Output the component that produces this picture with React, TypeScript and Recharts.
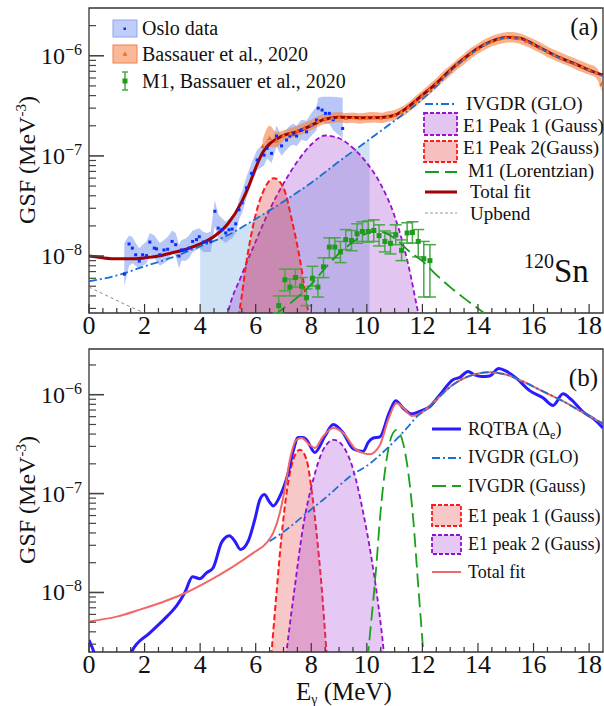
import React from "react";
import { ComposedChart, Line, Area, Scatter, XAxis, YAxis, ErrorBar, ReferenceArea } from "recharts";

const FONT = '"Liberation Serif", "DejaVu Serif", serif';

const xTicks = [0, 0.5, 1, 1.5, 2, 2.5, 3, 3.5, 4, 4.5, 5, 5.5, 6, 6.5, 7, 7.5, 8, 8.5, 9, 9.5, 10, 10.5, 11, 11.5, 12, 12.5, 13, 13.5, 14, 14.5, 15, 15.5, 16, 16.5, 17, 17.5, 18];
const yTicks = [3e-9, 4e-9, 5e-9, 6e-9, 7e-9, 8e-9, 9e-9, 1e-8, 2e-8, 3e-8, 4e-8, 5e-8, 6e-8, 7e-8, 8e-8, 9e-8, 1e-7, 2e-7, 3e-7, 4e-7, 5e-7, 6e-7, 7e-7, 8e-7, 9e-7, 1e-6, 2e-6];

const A_MIN = 2.7e-9;
const A_MAX = 3e-6;
const B_MIN = 2.5e-9;
const B_MAX = 2.9e-6;

// ---------- panel (a) ----------
const osloE = [1.27, 1.44, 1.56, 1.68, 1.81, 1.93, 2.07, 2.19, 2.35, 2.43, 2.55, 2.7, 2.83, 2.99, 3.12, 3.24, 3.33, 3.48, 3.6, 3.73, 3.87, 3.97, 4.11, 4.23, 4.38, 4.53, 4.65, 4.78, 4.92, 5.04, 5.15, 5.28, 5.4, 5.51, 5.67, 5.85, 6.05, 6.3, 6.41, 6.57, 6.75, 6.93, 7.11, 7.23, 7.35, 7.47, 7.65, 7.83, 8.01, 8.19, 8.25, 8.39, 8.51, 8.65, 8.79, 9.13];
const osloV = [6.6e-9, 1.32e-8, 1.2e-8, 1.03e-8, 8.9e-9, 1.03e-8, 1.01e-8, 1.38e-8, 1.2e-8, 1.18e-8, 1.03e-8, 1.15e-8, 1.17e-8, 1.4e-8, 1.3e-8, 1e-8, 1.15e-8, 1.15e-8, 1.2e-8, 1.4e-8, 1.46e-8, 1.56e-8, 1.38e-8, 1.38e-8, 1.39e-8, 2.8e-8, 1.9e-8, 1.83e-8, 1.7e-8, 1.83e-8, 1.86e-8, 2.1e-8, 2.9e-8, 3.4e-8, 4.8e-8, 6.7e-8, 9.1e-8, 1.02e-7, 1.19e-7, 1.06e-7, 1.58e-7, 1.26e-7, 1.44e-7, 1.58e-7, 1.65e-7, 1.58e-7, 1.82e-7, 1.74e-7, 2.03e-7, 2.28e-7, 3e-7, 2.87e-7, 2.66e-7, 2.66e-7, 2.3e-7, 1.88e-7];
const osloLo = [5e-9, 8e-9, 8.5e-9, 8e-9, 7.5e-9, 8e-9, 8.5e-9, 1.05e-8, 9.5e-9, 9e-9, 8e-9, 8.5e-9, 9e-9, 1.1e-8, 1e-8, 7.5e-9, 9e-9, 9e-9, 9.5e-9, 1.1e-8, 1.15e-8, 1.2e-8, 1.1e-8, 1.1e-8, 1.1e-8, 2e-8, 1.5e-8, 1.45e-8, 1.35e-8, 1.45e-8, 1.5e-8, 1.7e-8, 2.3e-8, 2.7e-8, 3.8e-8, 5.3e-8, 7.2e-8, 8e-8, 9.4e-8, 8.5e-8, 1.25e-7, 1e-7, 1.15e-7, 1.25e-7, 1.3e-7, 1.25e-7, 1.45e-7, 1.4e-7, 1.6e-7, 1.8e-7, 2.3e-7, 2.2e-7, 2.1e-7, 2.1e-7, 1.8e-7, 1.5e-7];
const osloHi = [1.35e-8, 1.6e-8, 1.55e-8, 1.35e-8, 1.2e-8, 1.3e-8, 1.4e-8, 1.7e-8, 1.6e-8, 1.5e-8, 1.35e-8, 1.45e-8, 1.55e-8, 1.8e-8, 1.7e-8, 1.3e-8, 1.45e-8, 1.5e-8, 1.6e-8, 1.8e-8, 1.85e-8, 1.9e-8, 1.75e-8, 1.7e-8, 1.75e-8, 3.6e-8, 2.6e-8, 2.4e-8, 2.2e-8, 2.35e-8, 2.4e-8, 2.7e-8, 3.7e-8, 4.4e-8, 6.2e-8, 8.5e-8, 1.15e-7, 1.3e-7, 1.5e-7, 1.35e-7, 2e-7, 1.6e-7, 1.85e-7, 2e-7, 2.1e-7, 2e-7, 2.3e-7, 2.25e-7, 2.7e-7, 3.1e-7, 3.8e-7, 3.9e-7, 3.9e-7, 3.9e-7, 3.9e-7, 3.8e-7];

const bassE = [6.25, 6.5, 6.75, 7, 7.25, 7.5, 7.75, 8, 8.25, 8.5, 8.75, 9, 9.25, 9.5, 9.75, 10, 10.25, 10.5, 10.75, 11, 11.25, 11.5, 11.75, 12, 12.25, 12.5, 12.75, 13, 13.25, 13.5, 13.75, 14, 14.25, 14.5, 14.75, 15, 15.25, 15.5, 15.75, 16, 16.25, 16.5, 16.75, 17, 17.25, 17.5, 17.75, 18, 18.25, 18.45];
const bassV = [1.25e-7, 1.5e-7, 1.42e-7, 1.6e-7, 1.68e-7, 1.78e-7, 1.9e-7, 2.05e-7, 2.22e-7, 2.35e-7, 2.4e-7, 2.44e-7, 2.38e-7, 2.42e-7, 2.37e-7, 2.41e-7, 2.43e-7, 2.4e-7, 2.48e-7, 2.56e-7, 2.75e-7, 3.05e-7, 3.5e-7, 4e-7, 4.6e-7, 5.3e-7, 6.2e-7, 7.1e-7, 8.2e-7, 9.3e-7, 1.06e-6, 1.18e-6, 1.3e-6, 1.4e-6, 1.47e-6, 1.52e-6, 1.53e-6, 1.49e-6, 1.4e-6, 1.3e-6, 1.2e-6, 1.1e-6, 1.02e-6, 9.5e-7, 8.9e-7, 8.3e-7, 7.8e-7, 7.3e-7, 6.8e-7, 5.2e-7];
const bassLo = [1.02e-7, 1.22e-7, 1.22e-7, 1.42e-7, 1.5e-7, 1.58e-7, 1.68e-7, 1.82e-7, 1.97e-7, 2.08e-7, 2.13e-7, 2.17e-7, 2.12e-7, 2.15e-7, 2.1e-7, 2.14e-7, 2.16e-7, 2.13e-7, 2.2e-7, 2.27e-7, 2.44e-7, 2.71e-7, 3.1e-7, 3.55e-7, 4.08e-7, 4.7e-7, 5.5e-7, 6.3e-7, 7.28e-7, 8.25e-7, 9.4e-7, 1.05e-6, 1.15e-6, 1.24e-6, 1.3e-6, 1.35e-6, 1.36e-6, 1.32e-6, 1.24e-6, 1.15e-6, 1.06e-6, 9.75e-7, 9.05e-7, 8.4e-7, 7.9e-7, 7.35e-7, 6.9e-7, 6.45e-7, 6e-7, 4.4e-7];
const bassHi = [1.45e-7, 2e-7, 1.72e-7, 1.8e-7, 1.9e-7, 2e-7, 2.14e-7, 2.3e-7, 2.5e-7, 2.65e-7, 2.7e-7, 2.75e-7, 2.68e-7, 2.72e-7, 2.67e-7, 2.72e-7, 2.74e-7, 2.7e-7, 2.8e-7, 2.88e-7, 3.1e-7, 3.44e-7, 3.95e-7, 4.5e-7, 5.2e-7, 5.98e-7, 7e-7, 8e-7, 9.25e-7, 1.05e-6, 1.2e-6, 1.33e-6, 1.47e-6, 1.58e-6, 1.66e-6, 1.72e-6, 1.73e-6, 1.68e-6, 1.58e-6, 1.47e-6, 1.36e-6, 1.24e-6, 1.15e-6, 1.07e-6, 1e-6, 9.4e-7, 8.8e-7, 8.25e-7, 7.7e-7, 6.2e-7];

const m1E = [6.83, 7.05, 7.23, 7.43, 7.65, 7.83, 8.04, 8.24, 8.44, 8.65, 8.85, 9.05, 9.24, 9.45, 9.65, 9.84, 10.05, 10.25, 10.44, 10.65, 10.85, 11.04, 11.25, 11.45, 11.64, 11.85, 12.05, 12.27];
const m1V = [3.2e-9, 5.8e-9, 4.9e-9, 6.1e-9, 5e-9, 3.85e-9, 6e-9, 4.9e-9, 7.8e-9, 1.23e-8, 1.23e-8, 1.1e-8, 1.46e-8, 1.43e-8, 1.67e-8, 1.76e-8, 1.76e-8, 1.8e-8, 1.6e-8, 1.4e-8, 1.34e-8, 1.63e-8, 1.14e-8, 1.7e-8, 1.72e-8, 1.4e-8, 9.4e-9, 9e-9];
const m1Lo = [2.7e-9, 4.5e-9, 4e-9, 4.9e-9, 4e-9, 3.2e-9, 5e-9, 3.9e-9, 6.1e-9, 9.6e-9, 9.6e-9, 8.6e-9, 1.16e-8, 1.13e-8, 1.34e-8, 1.4e-8, 1.38e-8, 1.4e-8, 1.26e-8, 1.1e-8, 1.05e-8, 1.3e-8, 9e-9, 1.35e-8, 1.35e-8, 9.8e-9, 3.9e-9, 3.9e-9];
const m1Hi = [4e-9, 7.4e-9, 5.9e-9, 7.4e-9, 6.1e-9, 4.7e-9, 7.9e-9, 6.1e-9, 9.6e-9, 1.52e-8, 1.52e-8, 1.4e-8, 1.84e-8, 1.8e-8, 2.1e-8, 2.2e-8, 2.25e-8, 2.3e-8, 2.05e-8, 1.78e-8, 1.7e-8, 2.05e-8, 1.45e-8, 2.15e-8, 2.2e-8, 1.84e-8, 1.4e-8, 1.3e-8];

const totalAE = [0, 0.5, 1, 1.5, 2, 2.5, 3, 3.5, 4, 4.5, 5, 5.5, 5.75, 6, 6.25, 6.5, 6.75, 7, 7.5, 8, 8.5, 9, 9.5, 10, 10.5, 11, 11.5, 12, 12.5, 13, 13.5, 14, 14.5, 15, 15.5, 16, 16.5, 17, 17.5, 18, 18.5];
const totalAV = [1e-8, 9.6e-9, 9.4e-9, 9.4e-9, 9.6e-9, 1e-8, 1.08e-8, 1.17e-8, 1.32e-8, 1.57e-8, 2.1e-8, 3.5e-8, 5e-8, 7.6e-8, 1.08e-7, 1.32e-7, 1.47e-7, 1.6e-7, 1.75e-7, 2.02e-7, 2.33e-7, 2.43e-7, 2.42e-7, 2.4e-7, 2.42e-7, 2.55e-7, 3.1e-7, 4.05e-7, 5.3e-7, 7.2e-7, 9.4e-7, 1.19e-6, 1.4e-6, 1.52e-6, 1.5e-6, 1.3e-6, 1.1e-6, 9.4e-7, 8.3e-7, 7.2e-7, 6.4e-7];

const gloAE = [0, 1, 2, 3, 4, 5, 6, 7, 8, 9, 10, 11, 12, 12.5, 13, 13.5, 14, 14.5, 15, 15.5, 16, 16.5, 17, 17.5, 18, 18.5];
const gloAV = [5.6e-9, 6.4e-9, 7.9e-9, 9.7e-9, 1.25e-8, 1.62e-8, 2.35e-8, 3.5e-8, 5.4e-8, 8.8e-8, 1.4e-7, 2.25e-7, 3.7e-7, 4.95e-7, 6.95e-7, 9.2e-7, 1.17e-6, 1.39e-6, 1.51e-6, 1.49e-6, 1.29e-6, 1.09e-6, 9.3e-7, 8.2e-7, 7.1e-7, 6.3e-7];

const fitRegionE = [4, 4.5, 5, 5.5, 6, 6.5, 7, 7.5, 8, 8.5, 9, 9.5, 10, 10.1];
const fitRegionV = [1.25e-8, 1.42e-8, 1.62e-8, 1.95e-8, 2.35e-8, 2.9e-8, 3.5e-8, 4.4e-8, 5.4e-8, 7e-8, 8.8e-8, 1.12e-7, 1.4e-7, 1.45e-7];

const peak1AE = [4.9, 5.0, 5.5, 6, 6.5, 7, 7.5, 8, 8.5, 9, 9.5, 10, 10.5, 11, 11.5, 11.85, 11.95];
const peak1AV = [2e-9, 2.7e-9, 6.5e-9, 1.4e-8, 2.9e-8, 5.3e-8, 8.8e-8, 1.3e-7, 1.6e-7, 1.5e-7, 1.2e-7, 8.5e-8, 5.2e-8, 2.5e-8, 8e-9, 2.7e-9, 2e-9];

const peak2AE = [5.3, 5.4, 5.7, 6.0, 6.3, 6.65, 7.0, 7.3, 7.6, 7.9, 8.0];
const peak2AV = [2e-9, 2.7e-9, 1e-8, 2.6e-8, 4.6e-8, 6e-8, 4.8e-8, 2.3e-8, 9e-9, 2.7e-9, 2e-9];

const m1FitE = [6.7, 6.8, 7.2, 7.6, 8, 8.5, 9, 9.5, 10, 10.3, 10.6, 11, 11.5, 12, 12.5, 13, 13.5, 14, 14.3];
const m1FitV = [2.5e-9, 2.7e-9, 3.3e-9, 4.1e-9, 5.2e-9, 7.6e-9, 1.06e-8, 1.38e-8, 1.68e-8, 1.76e-8, 1.72e-8, 1.5e-8, 1.13e-8, 8.9e-9, 6.5e-9, 4.9e-9, 3.8e-9, 3e-9, 2.6e-9];

const upbendE = [0, 0.5, 1, 1.5, 2, 2.3];
const upbendV = [4.9e-9, 4.2e-9, 3.6e-9, 3.1e-9, 2.7e-9, 2.4e-9];

// ---------- panel (b) ----------
const rqtbaE = [0, 0.2, 0.4, 1.0, 1.3, 1.53, 2.19, 2.8, 3.15, 3.45, 3.73, 3.99, 4.23, 4.47, 4.77, 5.05, 5.25, 5.45, 5.73, 5.97, 6.15, 6.31, 6.5, 6.63, 6.87, 7.17, 7.35, 7.53, 7.7, 7.83, 8.13, 8.49, 8.79, 9.15, 9.5, 9.87, 10.05, 10.23, 10.47, 10.8, 11.04, 11.31, 11.61, 11.91, 12.27, 12.63, 13.1, 13.35, 13.64, 13.88, 14.13, 14.42, 14.75, 15.03, 15.38, 15.86, 16.34, 16.7, 17.06, 17.36, 17.78, 18.2, 18.5];
const rqtbaV = [3.3e-9, 2.4e-9, 1.5e-9, 1e-9, 1.6e-9, 2.5e-9, 3.9e-9, 5.7e-9, 7.3e-9, 1e-8, 1.44e-8, 1.38e-8, 1.58e-8, 1.78e-8, 3.2e-8, 3.75e-8, 3.3e-8, 2.72e-8, 3.3e-8, 5.5e-8, 8.7e-8, 9.8e-8, 8.2e-8, 7.5e-8, 9.4e-8, 1.62e-7, 2.7e-7, 3.7e-7, 3.7e-7, 3.5e-7, 2.6e-7, 3.8e-7, 5e-7, 4.1e-7, 2.85e-7, 2.67e-7, 3.3e-7, 3.65e-7, 3.75e-7, 6.5e-7, 8.7e-7, 7.3e-7, 6.4e-7, 6.8e-7, 7.6e-7, 1e-6, 1.42e-6, 1.5e-6, 1.72e-6, 1.59e-6, 1.53e-6, 1.55e-6, 1.84e-6, 1.72e-6, 1.47e-6, 1.1e-6, 9.3e-7, 7.8e-7, 1.02e-6, 8.9e-7, 6.7e-7, 5.6e-7, 4.6e-7];

const totalBE = [0, 1, 1.83, 2.8, 3.5, 4.2, 5.2, 5.9, 6.4, 6.63, 6.87, 7.05, 7.23, 7.47, 7.65, 7.95, 8.13, 8.43, 8.79, 9.15, 9.6, 9.9, 10.1, 10.47, 10.77, 11.07, 11.37, 11.61, 11.97, 12.5, 13.1, 13.82, 14.42, 15.03, 15.62, 16.34, 17.06, 17.78, 18.5];
const totalBV = [5.1e-9, 5.7e-9, 6.7e-9, 8.3e-9, 1e-8, 1.26e-8, 1.84e-8, 2.5e-8, 3.2e-8, 4e-8, 6.4e-8, 1.12e-7, 2.2e-7, 3.5e-7, 3.65e-7, 3.1e-7, 2.9e-7, 3.8e-7, 4.6e-7, 4.1e-7, 2.8e-7, 2.55e-7, 2.5e-7, 3.1e-7, 5.6e-7, 8.2e-7, 7.1e-7, 6.1e-7, 6.6e-7, 8.9e-7, 1.26e-6, 1.59e-6, 1.69e-6, 1.59e-6, 1.36e-6, 1.08e-6, 8.6e-7, 6.6e-7, 5.1e-7];

const gloBE = [6.5, 7, 7.5, 8.07, 8.5, 9, 9.39, 10.1, 10.5, 11, 11.5, 11.8, 12.2, 12.5, 13.1, 13.82, 14.42, 15.03, 15.62, 16.34, 17.06, 17.78, 18.5];
const gloBV = [3.3e-8, 4.1e-8, 5.3e-8, 7.2e-8, 9e-8, 1.2e-7, 1.49e-7, 2e-7, 2.5e-7, 3.4e-7, 4.8e-7, 6e-7, 7.3e-7, 8.9e-7, 1.26e-6, 1.59e-6, 1.69e-6, 1.59e-6, 1.36e-6, 1.08e-6, 8.6e-7, 6.6e-7, 5.1e-7];

const gaussBE = [9.95, 10.05, 10.35, 10.47, 10.71, 10.89, 11.07, 11.31, 11.55, 11.67, 11.85, 12.03, 12.1];
const gaussBV = [1.3e-9, 2.5e-9, 2e-8, 5.5e-8, 2.2e-7, 3.8e-7, 4.4e-7, 3.2e-7, 1.2e-7, 5.5e-8, 1.16e-8, 2.5e-9, 1.3e-9];

const peak1BE = [6.5, 6.57, 6.75, 6.93, 7.11, 7.35, 7.59, 7.83, 8.01, 8.19, 8.37, 8.55, 8.65];
const peak1BV = [1.5e-9, 2.5e-9, 1e-8, 3.7e-8, 1.01e-7, 2.2e-7, 2.78e-7, 2.2e-7, 1.1e-7, 4e-8, 1.16e-8, 2.5e-9, 1.2e-9];

const peak2BE = [7.0, 7.11, 7.41, 7.71, 8.07, 8.43, 8.81, 9.15, 9.51, 9.87, 10.17, 10.41, 10.61, 10.7];
const peak2BV = [1.3e-9, 2.5e-9, 1.16e-8, 4.7e-8, 1.38e-7, 2.78e-7, 3.5e-7, 3e-7, 1.75e-7, 6.4e-8, 2.2e-8, 7.6e-9, 2.5e-9, 1.3e-9];

const pts = (xs: number[], ys: number[]) => xs.map((x, i) => ({ x, y: ys[i] }));

const osloData = osloE.map((x, i) => ({ x, y: osloV[i] }));
const osloBand = osloE.map((x, i) => ({ x, r: [osloLo[i], osloHi[i]] }));
const bassData = bassE.map((x, i) => ({ x, y: bassV[i] }));
const bassBand = bassE.map((x, i) => ({ x, r: [bassLo[i], bassHi[i]] }));
const m1Data = m1E.map((x, i) => ({ x, y: m1V[i], err: [m1V[i] - m1Lo[i], m1Hi[i] - m1V[i]] }));

const isMajorX = (v: number) => Math.abs(v % 2) < 1e-6;

function XTick(props: any) {
  const { x, y, payload, top } = props;
  const v = payload.value;
  const major = isMajorX(v);
  const len = major ? 9 : 5;
  return (
    <g>
      <line x1={x} x2={x} y1={y} y2={top ? y + len : y - len} stroke="#333" strokeWidth={1.2} />
      {major && !top && (
        <text x={x} y={y + 21} textAnchor="middle" fontSize={26} fontFamily={FONT} fill="#111">
          {v}
        </text>
      )}
    </g>
  );
}

function YTick(props: any) {
  const { x, y, payload } = props;
  const v = payload.value;
  const exp = Math.round(Math.log10(v));
  const major = Math.abs(v - Math.pow(10, exp)) / v < 1e-6;
  return (
    <g>
      <line x1={x} x2={x + (major ? 15 : 7)} y1={y} y2={y} stroke="#444" strokeWidth={major ? 1.6 : 1.2} />
      {major && (
        <text x={x - 7} y={y + 8} textAnchor="end" fontSize={24} fontFamily={FONT} fill="#111">
          10
          <tspan dy={-9} fontSize={16}>
            {"\u2212" + String(-exp)}
          </tspan>
        </text>
      )}
    </g>
  );
}

const squareShape = (color: string, s: number) => (p: any) => (
  <rect x={p.cx - s / 2} y={p.cy - s / 2} width={s} height={s} fill={color} />
);
const triShape = (p: any) => (
  <path d={`M${p.cx},${p.cy - 2.6} L${p.cx + 2.4},${p.cy + 1.8} L${p.cx - 2.4},${p.cy + 1.8} Z`} fill="#f26a1b" />
);

const axisCommon = {
  type: "number" as const,
  allowDataOverflow: true,
  interval: 0 as const,
  tickLine: false,
  axisLine: false,
  tickSize: 0,
  tickMargin: 0,
};

function PanelA() {
  return (
    <ComposedChart width={604} height={340} margin={{ top: 8, right: 1, left: 0, bottom: 0 }}>
      <XAxis {...axisCommon} dataKey="x" domain={[0, 18.5]} ticks={xTicks} height={27} tick={(p: any) => <XTick {...p} />} />
      <YAxis {...axisCommon} scale="log" domain={[A_MIN, A_MAX]} ticks={yTicks} width={89} tick={(p: any) => <YTick {...p} />} />

      <Scatter data={m1Data} dataKey="y" shape={squareShape("#1e9a1e", 5)} isAnimationActive={false}>
        <ErrorBar dataKey="err" direction="y" width={6} stroke="#48a848" strokeWidth={1.5} />
      </Scatter>

      <Area data={pts(fitRegionE, fitRegionV)} dataKey="y" type="linear" baseValue={A_MIN} stroke="none" fill="#a8c8ec" fillOpacity={0.55} isAnimationActive={false} />
      <Area data={pts(peak1AE, peak1AV)} dataKey="y" type="monotone" baseValue={A_MIN} stroke="#9a10d0" strokeWidth={1.8} strokeDasharray="5 3" fill="#a040d0" fillOpacity={0.3} isAnimationActive={false} />
      <Area data={pts(peak2AE, peak2AV)} dataKey="y" type="monotone" baseValue={A_MIN} stroke="#ff1a1a" strokeWidth={2} strokeDasharray="6 3" fill="#e03030" fillOpacity={0.3} isAnimationActive={false} />
      <Area data={osloBand} dataKey="r" type="linear" stroke="none" fill="#7090f0" fillOpacity={0.5} isAnimationActive={false} />
      <Area data={bassBand} dataKey="r" type="monotone" stroke="none" fill="#f58040" fillOpacity={0.6} isAnimationActive={false} />

      <Line data={pts(upbendE, upbendV)} dataKey="y" type="linear" stroke="#888" strokeWidth={1} strokeDasharray="3 3" dot={false} activeDot={false} isAnimationActive={false} />
      <Line data={pts(m1FitE, m1FitV)} dataKey="y" type="monotone" stroke="#1a9a1a" strokeWidth={1.8} strokeDasharray="14 6" dot={false} activeDot={false} isAnimationActive={false} />
      <Line data={pts(totalAE, totalAV)} dataKey="y" type="monotone" stroke="#a00000" strokeWidth={3} dot={false} activeDot={false} isAnimationActive={false} />
      <Line data={pts(gloAE, gloAV)} dataKey="y" type="monotone" stroke="#1a70d0" strokeWidth={1.8} strokeDasharray="8 3 2 3" dot={false} activeDot={false} isAnimationActive={false} />

      <Scatter data={osloData} dataKey="y" shape={squareShape("#0a2cff", 3)} isAnimationActive={false} />
      <Scatter data={bassData} dataKey="y" shape={triShape} isAnimationActive={false} />

      <ReferenceArea x1={0} x2={18.5} y1={A_MIN} y2={A_MAX} fill="none" stroke="#333" strokeWidth={1.3} />
    </ComposedChart>
  );
}

function PanelB() {
  return (
    <ComposedChart width={604} height={366} margin={{ top: 8, right: 1, left: 0, bottom: 0 }}>
      <XAxis {...axisCommon} dataKey="x" domain={[0, 18.5]} ticks={xTicks} height={54} tick={(p: any) => <XTick {...p} />} />
      <XAxis {...axisCommon} xAxisId="top" orientation="top" domain={[0, 18.5]} ticks={xTicks} height={1} tick={(p: any) => <XTick {...p} top />} />
      <YAxis {...axisCommon} scale="log" domain={[B_MIN, B_MAX]} ticks={yTicks} width={89} tick={(p: any) => <YTick {...p} />} />

      <Area data={pts(peak1BE, peak1BV)} dataKey="y" type="monotone" baseValue={B_MIN} stroke="#ff1a1a" strokeWidth={2} strokeDasharray="6 3" fill="#e84848" fillOpacity={0.3} isAnimationActive={false} />
      <Area data={pts(peak2BE, peak2BV)} dataKey="y" type="monotone" baseValue={B_MIN} stroke="#9010d0" strokeWidth={1.8} strokeDasharray="5 3" fill="#a848d8" fillOpacity={0.3} isAnimationActive={false} />

      <Line data={pts(gaussBE, gaussBV)} dataKey="y" type="monotone" stroke="#1aa01a" strokeWidth={1.8} strokeDasharray="14 6" dot={false} activeDot={false} isAnimationActive={false} />
      <Line data={pts(rqtbaE, rqtbaV)} dataKey="y" type="monotone" stroke="#2a1aff" strokeWidth={3} dot={false} activeDot={false} isAnimationActive={false} />
      <Line data={pts(totalBE, totalBV)} dataKey="y" type="monotone" stroke="#f06868" strokeWidth={2} dot={false} activeDot={false} isAnimationActive={false} />
      <Line data={pts(gloBE, gloBV)} dataKey="y" type="monotone" stroke="#1a70d0" strokeWidth={1.8} strokeDasharray="8 3 2 3" dot={false} activeDot={false} isAnimationActive={false} />

      <ReferenceArea x1={0} x2={18.5} y1={B_MIN} y2={B_MAX} fill="none" stroke="#333" strokeWidth={1.3} />
    </ComposedChart>
  );
}

function Overlay() {
  const t = { fontFamily: FONT, fill: "#111" };
  return (
    <svg width={604} height={706} style={{ position: "absolute", left: 0, top: 0, pointerEvents: "none" }}>
      {/* panel a, left legend */}
      <rect x={113} y={20} width={24} height={17} fill="#7090f0" fillOpacity={0.45} stroke="#8fa4f2" />
      <rect x={123.5} y={27.5} width={2.5} height={2.5} fill="#0a2cff" />
      <rect x={113} y={45} width={24} height={18} fill="#f58040" fillOpacity={0.55} stroke="#f08050" />
      <path d="M125,51.5 L127.4,55.8 L122.6,55.8 Z" fill="#f26a1b" />
      <line x1={125} x2={125} y1={72} y2={90} stroke="#48a848" strokeWidth={1.5} />
      <line x1={122} x2={128} y1={72} y2={72} stroke="#48a848" strokeWidth={1.5} />
      <line x1={122} x2={128} y1={90} y2={90} stroke="#48a848" strokeWidth={1.5} />
      <rect x={122.5} y={78.5} width={5} height={5} fill="#1e9a1e" />
      <text x={142} y={35} fontSize={20} {...t}>Oslo data</text>
      <text x={142} y={61} fontSize={20} {...t}>Bassauer et al., 2020</text>
      <text x={142} y={88} fontSize={20} {...t}>M1, Bassauer et al., 2020</text>

      {/* panel a, right legend */}
      <line x1={425} x2={457} y1={104} y2={104} stroke="#1a70d0" strokeWidth={1.8} strokeDasharray="8 3 2 3" />
      <rect x={424} y={113} width={33} height={22} fill="#a040d0" fillOpacity={0.3} stroke="#9a10d0" strokeWidth={1.8} strokeDasharray="4 2" />
      <rect x={424} y={141} width={33} height={21} fill="#e03030" fillOpacity={0.3} stroke="#ff1a1a" strokeWidth={1.8} strokeDasharray="4 2" />
      <line x1={425} x2={457} y1={172} y2={172} stroke="#1a9a1a" strokeWidth={1.8} strokeDasharray="14 6" />
      <line x1={425} x2={457} y1={192} y2={192} stroke="#a00000" strokeWidth={3} />
      <line x1={425} x2={457} y1={213} y2={213} stroke="#999" strokeWidth={1} strokeDasharray="3 2" />
      <text x={466} y={110} fontSize={19} {...t}>IVGDR (GLO)</text>
      <text x={463} y={132} fontSize={19} {...t}>E1 Peak 1 (Gauss)</text>
      <text x={463} y={154} fontSize={19} {...t}>E1 Peak 2(Gauss)</text>
      <text x={468} y={177} fontSize={19} {...t}>M1 (Lorentzian)</text>
      <text x={470} y={198} fontSize={19} {...t}>Total fit</text>
      <text x={470} y={220} fontSize={19} {...t}>Upbend</text>

      <text x={598} y={35} textAnchor="end" fontSize={25} {...t}>(a)</text>
      <text x={524} y={282} {...t}>
        <tspan fontSize={20} dy={-14}>120</tspan>
        <tspan fontSize={33} dy={14}>Sn</tspan>
      </text>

      {/* panel b legend */}
      <line x1={432} x2={461} y1={429} y2={429} stroke="#2a1aff" strokeWidth={3} />
      <line x1={432} x2={461} y1={458} y2={458} stroke="#1a70d0" strokeWidth={1.8} strokeDasharray="8 3 2 3" />
      <line x1={432} x2={461} y1={486} y2={486} stroke="#1aa01a" strokeWidth={1.8} strokeDasharray="14 6" />
      <rect x={432} y={505} width={29} height={21} fill="#e84848" fillOpacity={0.3} stroke="#ff1a1a" strokeWidth={1.8} strokeDasharray="4 2" />
      <rect x={432} y={535} width={29} height={19} fill="#a848d8" fillOpacity={0.3} stroke="#9010d0" strokeWidth={1.8} strokeDasharray="4 2" />
      <line x1={432} x2={461} y1={572} y2={572} stroke="#f06868" strokeWidth={2} />
      <text x={468} y={435} fontSize={18} {...t}>
        RQTBA (Δ<tspan fontSize={12} dy={4}>e</tspan>
        <tspan dy={-4}>)</tspan>
      </text>
      <text x={468} y={463} fontSize={18} {...t}>IVGDR (GLO)</text>
      <text x={468} y={492} fontSize={18} {...t}>IVGDR (Gauss)</text>
      <text x={468} y={522} fontSize={18} {...t}>E1 peak 1 (Gauss)</text>
      <text x={468} y={550} fontSize={18} {...t}>E1 peak 2 (Gauss)</text>
      <text x={468} y={578} fontSize={18} {...t}>Total fit</text>
      <text x={598} y={386} textAnchor="end" fontSize={25} {...t}>(b)</text>

      {/* axis titles */}
      <text transform="translate(35,160) rotate(-90)" textAnchor="middle" fontSize={24} {...t}>
        GSF (MeV<tspan fontSize={15} dy={-9}>-3</tspan>
        <tspan dy={9}>)</tspan>
      </text>
      <text transform="translate(35,500) rotate(-90)" textAnchor="middle" fontSize={24} {...t}>
        GSF (MeV<tspan fontSize={15} dy={-9}>-3</tspan>
        <tspan dy={9}>)</tspan>
      </text>
      <text x={296} y={700} fontSize={25} {...t}>
        E<tspan fontSize={14} dy={4}>γ</tspan>
        <tspan dy={-4}> (MeV)</tspan>
      </text>
    </svg>
  );
}

export default function App() {
  return (
    <div style={{ position: "absolute", left: 0, top: 0, width: 604, height: 706, background: "#fff" }}>
      <div style={{ position: "absolute", left: 0, top: 0 }}>
        <PanelA />
      </div>
      <div style={{ position: "absolute", left: 0, top: 340 }}>
        <PanelB />
      </div>
      <Overlay />
    </div>
  );
}
